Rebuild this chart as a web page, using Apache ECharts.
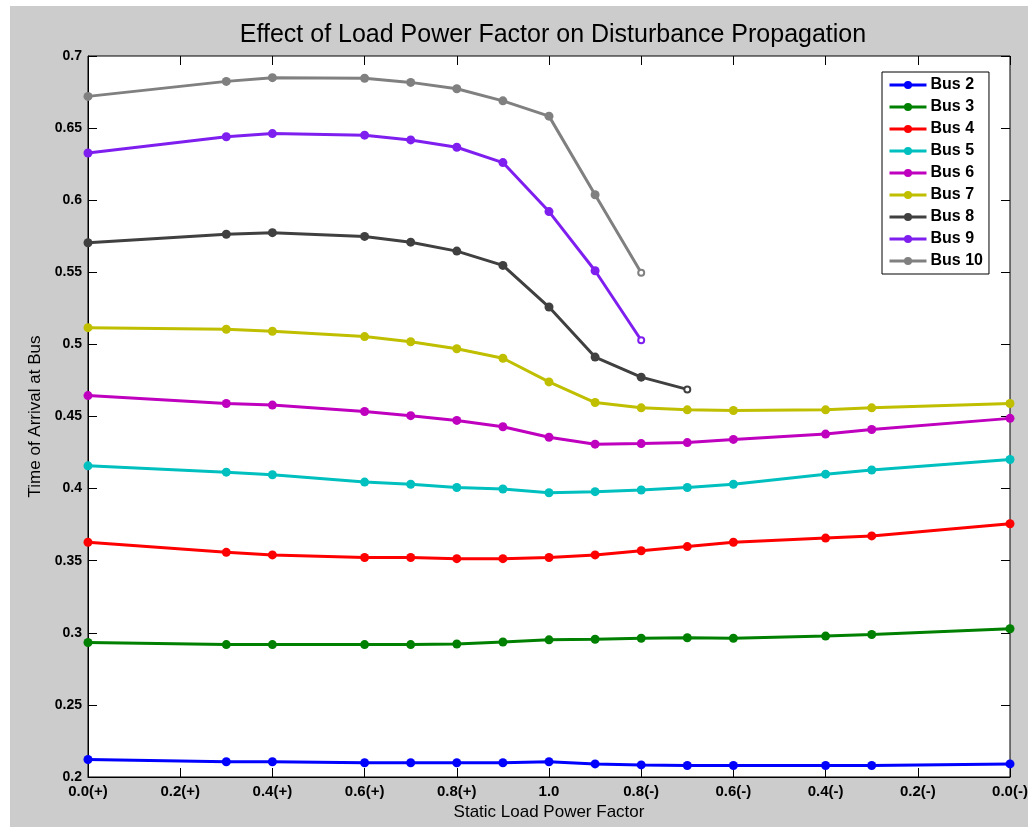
<!DOCTYPE html>
<html>
<head>
<meta charset="utf-8">
<script src="https://cdn.jsdelivr.net/npm/echarts@6/dist/echarts.min.js"></script>
<style>
html,body{margin:0;padding:0;background:#fff;}
#c{width:1028px;height:827px;}
</style>
</head>
<body>
<div id="c"></div>
<script>
// x positions (0 = 0.0(+), 1 = unity, 2 = 0.0(-))
const xValues = [0, 0.3, 0.4, 0.6, 0.7, 0.8, 0.9, 1.0, 1.1, 1.2, 1.3, 1.4, 1.6, 1.7, 2.0];
const xTickLabels = ['0.0(+)','0.2(+)','0.4(+)','0.6(+)','0.8(+)','1.0','0.8(-)','0.6(-)','0.4(-)','0.2(-)','0.0(-)'];
const seriesNames = ['Bus 2','Bus 3','Bus 4','Bus 5','Bus 6','Bus 7','Bus 8','Bus 9','Bus 10'];
const seriesColors = ['#0000ff','#008000','#ff0000','#00bfbf','#bf00bf','#bfbf00','#404040','#7f1fef','#808080'];

const bus2  = [0.2121,0.2106,0.2106,0.2099,0.2099,0.2099,0.2099,0.2106,0.2091,0.2084,0.2080,0.2080,0.2080,0.2080,0.2091];
const bus3  = [0.2933,0.2918,0.2918,0.2918,0.2918,0.2922,0.2936,0.2951,0.2955,0.2962,0.2966,0.2962,0.2977,0.2988,0.3028];
const bus4  = [0.3628,0.3558,0.3540,0.3522,0.3522,0.3514,0.3514,0.3522,0.3540,0.3569,0.3598,0.3628,0.3657,0.3672,0.3756];
const bus5  = [0.4158,0.4114,0.4096,0.4045,0.4030,0.4008,0.3997,0.3971,0.3979,0.3990,0.4008,0.4030,0.4100,0.4129,0.4202];
const bus6  = [0.4645,0.4590,0.4579,0.4535,0.4506,0.4473,0.4429,0.4356,0.4308,0.4312,0.4319,0.4341,0.4378,0.4410,0.4487];
const bus7  = [0.5116,0.5105,0.5091,0.5054,0.5018,0.4970,0.4904,0.4740,0.4597,0.4560,0.4546,0.4542,0.4546,0.4560,0.4590];
const bus8  = [0.5705,0.5764,0.5775,0.5749,0.5709,0.5647,0.5548,0.5259,0.4912,0.4773,0.4688];
const bus9  = [0.6327,0.6440,0.6462,0.6451,0.6418,0.6367,0.6261,0.5921,0.5511,0.5029];
const bus10 = [0.6720,0.6824,0.6850,0.6846,0.6817,0.6773,0.6689,0.6583,0.6038,0.5497];
const seriesValues = [bus2,bus3,bus4,bus5,bus6,bus7,bus8,bus9,bus10];

const FONT = '"Liberation Sans", Arial, sans-serif';
const chart = echarts.init(document.getElementById('c'), null, {renderer:'canvas'});

const series = seriesNames.map((name, i) => {
  const vals = seriesValues[i];
  const partial = vals.length < xValues.length;
  return {
    name: name,
    type: 'line',
    xAxisIndex: 0, yAxisIndex: 0,
    data: vals.map((v, j) => {
      const d = {value: [xValues[j], v]};
      if (partial && j === vals.length - 1) {
        d.symbol = 'emptyCircle';
        d.symbolSize = 6;
        d.itemStyle = {borderWidth: 2.5, borderColor: seriesColors[i]};
      }
      return d;
    }),
    symbol: 'circle',
    symbolSize: 9,
    showAllSymbol: true,
    color: seriesColors[i],
    lineStyle: {width: 3, color: seriesColors[i]},
    itemStyle: {color: seriesColors[i]},
    emphasis: {disabled: true},
    z: 3
  };
});

const tickStyle = {show: true, inside: true, length: 9, lineStyle: {color: '#000'}};

const option = {
  animation: false,
  backgroundColor: '#cccccc',
  graphic: [
    {type:'rect', left:0, top:0, shape:{width:1028, height:6}, style:{fill:'#ffffff'}, z:-1},
    {type:'rect', left:0, top:0, shape:{width:10, height:827}, style:{fill:'#ffffff'}, z:-1}
  ],
  title: {
    text: 'Effect of Load Power Factor on Disturbance Propagation',
    left: 548, top: 18, textAlign: 'center',
    textStyle: {fontFamily: FONT, fontSize: 25, fontWeight: 'normal', color: '#000'}
  },
  grid: {
    left: 88, right: 18, top: 56, bottom: 50,
    outerBoundsMode: 'none', containLabel: false,
    show: true, backgroundColor: '#ffffff', borderColor: '#000', borderWidth: 1
  },
  legend: {
    data: seriesNames,
    orient: 'vertical',
    left: 882, top: 72,
    padding: [5, 6, 5, 6],
    backgroundColor: '#ffffff',
    borderColor: '#000', borderWidth: 1,
    itemWidth: 37, itemHeight: 10,
    itemGap: 6,
    lineStyle: {width: 3},
    textStyle: {fontFamily: FONT, fontSize: 16, fontWeight: 'bold', color: '#000', lineHeight: 16, padding: [0,0,0,-1]}
  },
  xAxis: [
    {
      type: 'value', min: 0, max: 2, interval: 0.2, position: 'bottom',
      name: 'Static Load Power Factor', nameLocation: 'middle', nameGap: 25,
      nameTextStyle: {fontFamily: FONT, fontSize: 17, color: '#000'},
      axisLine: {show: true, onZero: false, lineStyle: {color: '#000', width: 1}},
      axisTick: tickStyle,
      axisLabel: {
        fontFamily: FONT, fontSize: 15, fontWeight: 'bold', color: '#000', margin: 7,
        formatter: v => xTickLabels[Math.round(v / 0.2)]
      },
      splitLine: {show: false}
    },
    {
      type: 'value', min: 0, max: 2, interval: 0.2, position: 'top',
      axisLine: {show: false, onZero: false},
      axisTick: tickStyle,
      axisLabel: {show: false}, splitLine: {show: false}
    }
  ],
  yAxis: [
    {
      type: 'value', min: 0.2, max: 0.7, interval: 0.05, position: 'left',
      name: 'Time of Arrival at Bus', nameLocation: 'middle', nameGap: 44,
      nameTextStyle: {fontFamily: FONT, fontSize: 17, color: '#000'},
      axisLine: {show: true, onZero: false, lineStyle: {color: '#000', width: 1}},
      axisTick: tickStyle,
      axisLabel: {
        fontFamily: FONT, fontSize: 14, fontWeight: 'bold', color: '#000', margin: 6,
        formatter: v => String(parseFloat(v.toFixed(2)))
      },
      splitLine: {show: false}
    },
    {
      type: 'value', min: 0.2, max: 0.7, interval: 0.05, position: 'right',
      axisLine: {show: false, onZero: false},
      axisTick: tickStyle,
      axisLabel: {show: false}, splitLine: {show: false}
    }
  ],
  series: series
};
chart.setOption(option);
</script>
</body>
</html>
